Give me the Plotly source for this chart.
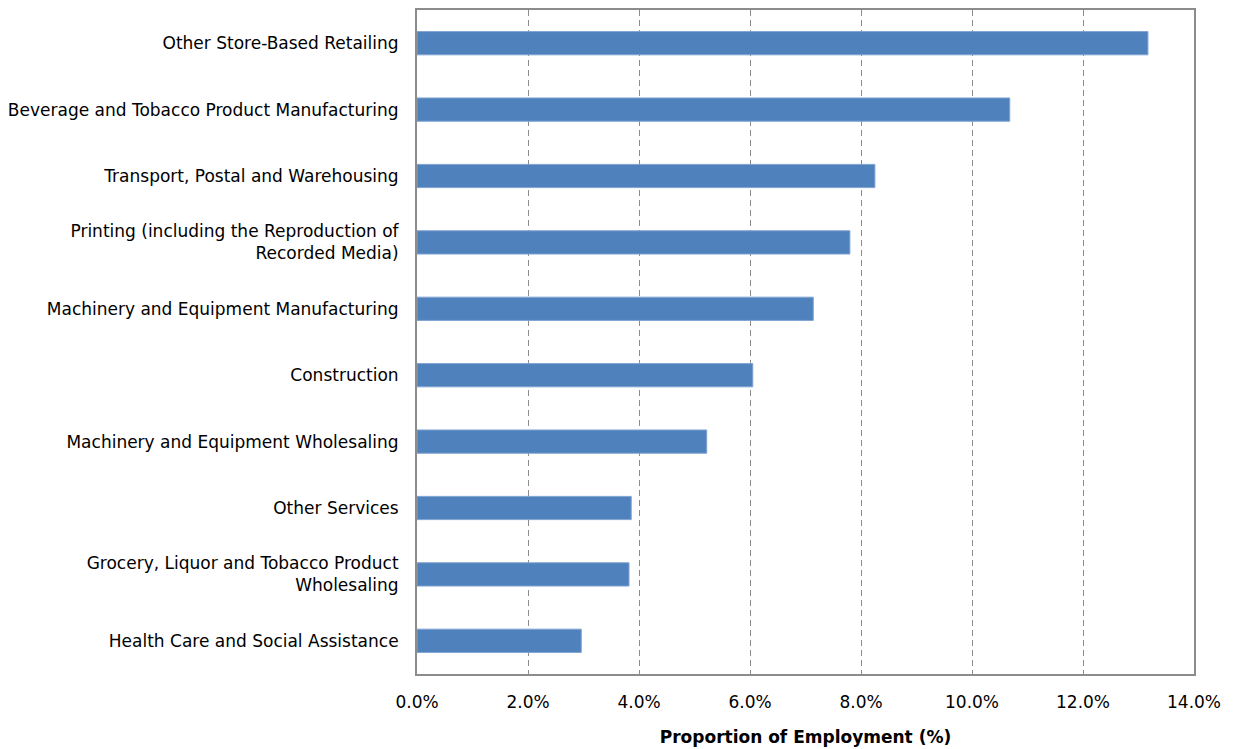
import plotly.graph_objects as go

categories = [
    "Other Store-Based Retailing",
    "Beverage and Tobacco Product Manufacturing",
    "Transport, Postal and Warehousing",
    "Printing (including the Reproduction of<br>Recorded Media)",
    "Machinery and Equipment Manufacturing",
    "Construction",
    "Machinery and Equipment Wholesaling",
    "Other Services",
    "Grocery, Liquor and Tobacco Product<br>Wholesaling",
    "Health Care and Social Assistance",
]
values = [13.17, 10.68, 8.25, 7.80, 7.14, 6.05, 5.22, 3.86, 3.82, 2.96]
tick_vals = [0, 2, 4, 6, 8, 10, 12, 14]
tick_text = [f"{v:.1f}%" for v in tick_vals]

font_family = "DejaVu Sans"

fig = go.Figure(go.Bar(
    x=values,
    y=categories,
    orientation="h",
    marker=dict(color="#4F81BD", line=dict(color="#7FA3D3", width=1)),
))

fig.update_layout(
    width=1235, height=749,
    margin=dict(l=409, r=49, t=0, b=83),
    plot_bgcolor="white", paper_bgcolor="white",
    bargap=0.65,
    showlegend=False,
    font=dict(family=font_family, size=17, color="black"),
    xaxis=dict(
        range=[0, 14], tickvals=tick_vals, ticktext=tick_text,
        showgrid=True, gridcolor="#8C8C8C", griddash="6px,4px", gridwidth=1,
        showline=True, linecolor="#8C8C8C", linewidth=2, mirror=True,
        ticks="", zeroline=False, ticklabelstandoff=12,
        tickfont=dict(size=17),
        title=dict(text="<b>Proportion of Employment (%)</b>", font=dict(size=17), standoff=20),
    ),
    yaxis=dict(
        autorange="reversed",
        showline=True, linecolor="#8C8C8C", linewidth=2, mirror=True,
        showgrid=False, ticks="", ticklabelstandoff=13,
        tickfont=dict(size=17),
    ),
)

fig.write_html("out.html")
